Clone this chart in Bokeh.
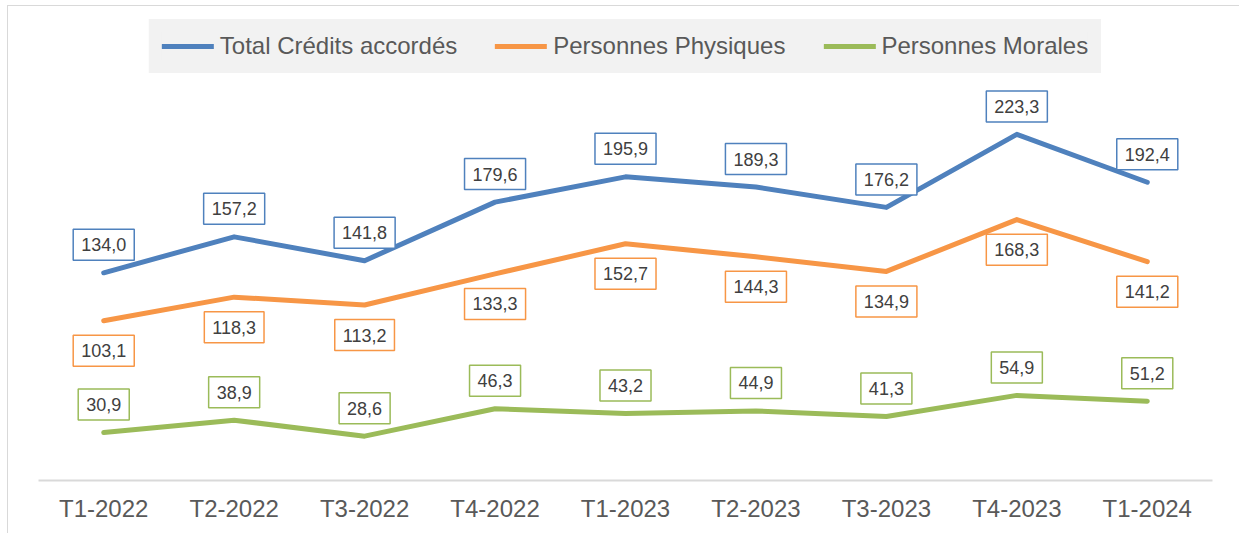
from bokeh.plotting import figure
from bokeh.models import Range1d, FactorRange, Legend, LegendItem, ColumnDataSource
from bokeh.core.properties import value
from bokeh.embed import file_html
from bokeh.resources import INLINE

quarters = ["T1-2022", "T2-2022", "T3-2022", "T4-2022", "T1-2023",
            "T2-2023", "T3-2023", "T4-2023", "T1-2024"]
total = [134.0, 157.2, 141.8, 179.6, 195.9, 189.3, 176.2, 223.3, 192.4]
physiques = [103.1, 118.3, 113.2, 133.3, 152.7, 144.3, 134.9, 168.3, 141.2]
morales = [30.9, 38.9, 28.6, 46.3, 43.2, 44.9, 41.3, 54.9, 51.2]
series_names = ["Total Crédits accordés", "Personnes Physiques", "Personnes Morales"]

colors = ["#4F81BD", "#F79646", "#9BBB59"]
label_offsets = [-28, 30, -28]
FONT = "Liberation Sans"

p = figure(width=1231, height=527, output_backend="svg", toolbar_location=None,
           x_range=FactorRange(*quarters, range_padding=0),
           y_range=Range1d(0, 305.8))
p.min_border = 0
p.min_border_left = 30
p.min_border_right = 27
p.min_border_top = 0
p.min_border_bottom = 53
p.outline_line_color = None
p.xgrid.visible = False
p.ygrid.visible = False
p.yaxis.visible = False
p.background_fill_color = "white"
p.border_fill_color = "white"
p.styles = {"outline": "1px solid #D9D9D9", "margin-left": "8px", "margin-top": "6px"}

ax = p.xaxis[0]
ax.axis_line_color = "#D9D9D9"
ax.axis_line_width = 2
ax.major_tick_line_color = None
ax.minor_tick_line_color = None
ax.major_tick_out = 0
ax.major_label_standoff = 14
ax.major_label_text_font = FONT
ax.major_label_text_font_size = "24px"
ax.major_label_text_color = "#595959"

items = []
for name, vals, col, off in zip(series_names, [total, physiques, morales], colors, label_offsets):
    src = ColumnDataSource(dict(x=quarters, y=vals,
                                lab=[f"{v:.1f}".replace(".", ",") for v in vals]))
    r = p.line("x", "y", source=src, line_color=col, line_width=5,
               line_cap="round", line_join="round")
    items.append(LegendItem(label=name, renderers=[r]))
    p.text("x", "y", text="lab", source=src, y_offset=off,
           text_font=value(FONT), text_font_size="18px", text_color="#404040",
           text_align="center", text_baseline="middle",
           background_fill_color="white", border_line_color=col,
           border_line_width=1.5, padding=(8, 9))

legend = Legend(items=items, orientation="horizontal", location="top_center",
                margin=13, padding=0, spacing=38, label_standoff=6,
                glyph_width=52, glyph_height=20,
                label_text_font=FONT, label_text_font_size="24px",
                label_text_color="#595959",
                background_fill_color="#F2F2F2", background_fill_alpha=1,
                border_line_color="#F2F2F2", border_line_width=13)
p.add_layout(legend, "center")

open("out.html", "w").write(file_html(p, INLINE))
